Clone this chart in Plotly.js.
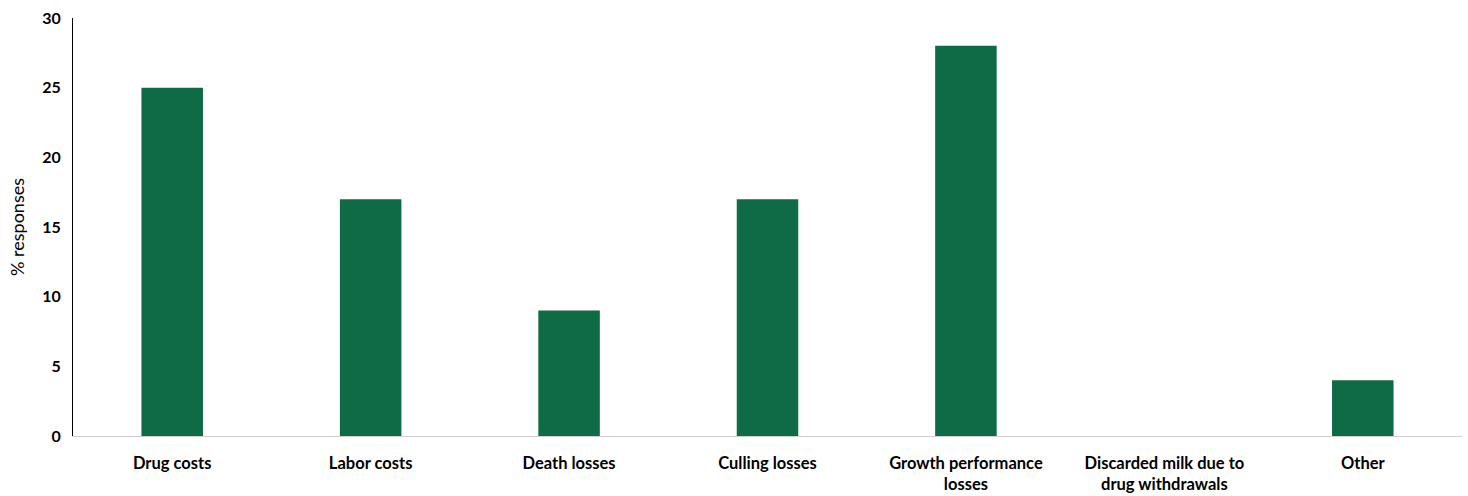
<!DOCTYPE html>
<html>
<head>
<meta charset="utf-8">
<script src="https://cdn.plot.ly/plotly-3.0.1.min.js"></script>
<style>html,body{margin:0;padding:0;background:#fff;}#chart{width:1468px;height:496px;}</style>
</head>
<body>
<div id="chart"></div>
<script>
const categories = ["Drug costs", "Labor costs", "Death losses", "Culling losses", "Growth performance<br>losses", "Discarded milk due to<br>drug withdrawals", "Other"];
const responses = [25, 17, 9, 17, 28, 0, 4];
const yTicks = [0, 5, 10, 15, 20, 25, 30];

const trace = {
  type: "bar",
  x: categories,
  y: responses,
  marker: {color: "#0E6B45"},
  hoverinfo: "x+y"
};

const layout = {
  width: 1468,
  height: 496,
  margin: {l: 73, r: 6, t: 18, b: 60},
  paper_bgcolor: "#ffffff",
  plot_bgcolor: "#ffffff",
  bargap: 0.69,
  showlegend: false,
  font: {family: "Lato, 'Liberation Sans', sans-serif", color: "#000000"},
  xaxis: {
    type: "category",
    showline: true,
    linecolor: "#d0d0d0",
    linewidth: 1,
    ticks: "",
    showgrid: false,
    ticklabelstandoff: 12,
    tickfont: {size: 16.5, family: "Lato, 'Liberation Sans', sans-serif", weight: "bold", color: "#000"}
  },
  yaxis: {
    range: [0, 30],
    tickvals: yTicks,
    ticktext: yTicks.map(String),
    showline: true,
    linecolor: "#000000",
    linewidth: 1,
    showgrid: false,
    zeroline: false,
    ticks: "",
    ticklabelstandoff: 8,
    tickfont: {size: 16, family: "Lato, 'Liberation Sans', sans-serif", weight: "bold", color: "#000"},
    title: {text: "% responses", standoff: 12, font: {size: 18, family: "Lato, 'Liberation Sans', sans-serif", color: "#000"}}
  }
};

Plotly.newPlot("chart", [trace], layout, {displayModeBar: false, staticPlot: true});
</script>
</body>
</html>
